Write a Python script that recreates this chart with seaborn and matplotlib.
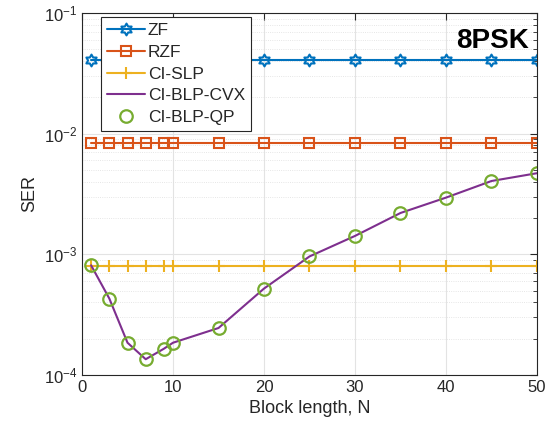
import numpy as np
import matplotlib
matplotlib.use('Agg')
import matplotlib.pyplot as plt
from matplotlib.path import Path
from matplotlib.ticker import LogLocator, NullFormatter
import seaborn as sns

sns.set_style('white')
plt.rcParams['font.family'] = ['Liberation Sans', 'DejaVu Sans']
plt.rcParams['mathtext.default'] = 'regular'

# data
N_vals = [1, 3, 5, 7, 9, 10, 15, 20, 25, 30, 35, 40, 45, 50]
ser_zf = [0.041] * len(N_vals)
ser_rzf = [0.0084] * len(N_vals)
ser_slp = [8.0e-4] * len(N_vals)
ser_blp_cvx = [8.1e-4, 4.3e-4, 1.85e-4, 1.35e-4, 1.65e-4, 1.85e-4, 2.45e-4,
               5.2e-4, 9.6e-4, 1.42e-3, 2.2e-3, 2.95e-3, 4.05e-3, 4.7e-3]
ser_blp_qp = ser_blp_cvx

# hexagram marker (MATLAB 'h')
ang = np.pi / 2 + np.arange(12) * np.pi / 6
rad = np.where(np.arange(12) % 2 == 0, 1.0, 1 / np.sqrt(3))
verts = np.column_stack([rad * np.cos(ang), rad * np.sin(ang)])
verts = np.vstack([verts, verts[:1]])
codes = [Path.MOVETO] + [Path.LINETO] * 11 + [Path.CLOSEPOLY]
hexagram = Path(verts, codes)

c_zf, c_rzf, c_slp, c_cvx, c_qp = '#0072BD', '#D95319', '#EDB120', '#7E2F8E', '#77AC30'

fig = plt.figure(figsize=(5.56, 4.30), dpi=100)
ax = fig.add_axes([0.1475, 0.128, 0.8183, 0.8418])

sns.lineplot(x=N_vals, y=ser_zf, ax=ax, color=c_zf, lw=1.5, marker=hexagram,
             markersize=8.5, markerfacecolor='none', markeredgecolor=c_zf,
             markeredgewidth=1.5, label='ZF')
sns.lineplot(x=N_vals, y=ser_rzf, ax=ax, color=c_rzf, lw=1.5, marker='s',
             markersize=7, markerfacecolor='none', markeredgecolor=c_rzf,
             markeredgewidth=1.5, label='RZF')
sns.lineplot(x=N_vals, y=ser_slp, ax=ax, color=c_slp, lw=1.5, marker='+',
             markersize=9, markeredgecolor=c_slp, markeredgewidth=1.5,
             label='CI-SLP')
sns.lineplot(x=N_vals, y=ser_blp_cvx, ax=ax, color=c_cvx, lw=1.5, label='CI-BLP-CVX')
ax.plot(N_vals, ser_blp_qp, ls='none', marker='o', markersize=9,
        markerfacecolor='none', markeredgecolor=c_qp, markeredgewidth=1.6,
        label='CI-BLP-QP')

ax.set_yscale('log')
ax.set_xlim(0, 50)
ax.set_ylim(1e-4, 1e-1)
ax.set_xticks([0, 10, 20, 30, 40, 50])
ax.yaxis.set_major_locator(LogLocator(base=10, numticks=10))
ax.yaxis.set_minor_locator(LogLocator(base=10, subs=np.arange(2, 10), numticks=10))
ax.yaxis.set_minor_formatter(NullFormatter())

ax.grid(True, which='major', color='#e3e3e3', lw=0.8)
ax.grid(True, which='minor', axis='y', color='#dedede', lw=0.6, ls=':')
ax.set_axisbelow(True)
ax.tick_params(which='both', direction='in', top=True, right=True,
               labelsize=12, color='#262626', labelcolor='#262626')
ax.tick_params(which='major', length=5)
ax.tick_params(which='minor', length=3)
for s in ax.spines.values():
    s.set_color('#262626')
    s.set_linewidth(0.8)

ax.set_xlabel('Block length, N', fontsize=13, color='#262626')
ax.set_ylabel('SER', fontsize=13, color='#262626')

ax.text(0.982, 0.958, '8PSK', transform=ax.transAxes, ha='right', va='top',
        fontsize=20, fontweight='bold', color='black')

leg = ax.legend(loc='upper left', bbox_to_anchor=(0.042, 0.989), fontsize=12.5,
                frameon=True, fancybox=False, edgecolor='#262626', framealpha=1,
                handlelength=2.2, handletextpad=0.15, borderpad=0.35,
                labelspacing=0.38, borderaxespad=0.0)
leg.get_frame().set_linewidth(0.8)

fig.savefig('out.png', dpi=100)
